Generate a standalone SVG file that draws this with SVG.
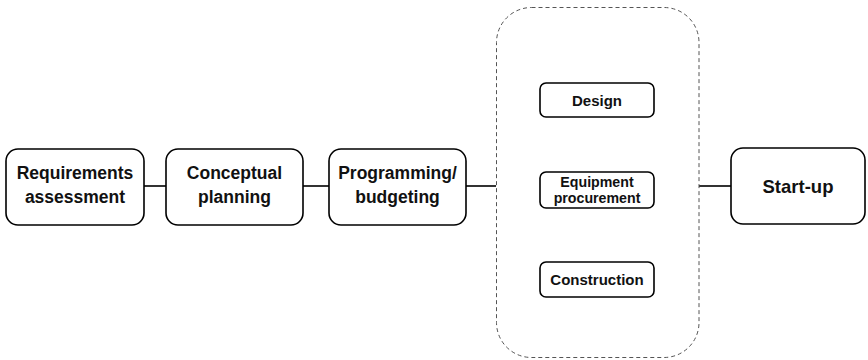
<svg xmlns="http://www.w3.org/2000/svg" width="868" height="360" viewBox="0 0 868 360">
  <style>
    .box { fill: #ffffff; stroke: #000000; stroke-width: 1.6; }
    .sub { fill: #ffffff; stroke: #000000; stroke-width: 1.6; }
    .group { fill: none; stroke: #555555; stroke-width: 1; stroke-dasharray: 4 3; }
    .link { stroke: #000000; stroke-width: 1.6; fill: none; }
    .lbl { font-family: "Liberation Sans", Arial, Helvetica, sans-serif; font-weight: bold; font-size: 17.5px; fill: #111111; text-anchor: middle; }
    .slbl { font-family: "Liberation Sans", Arial, Helvetica, sans-serif; font-weight: bold; font-size: 15px; fill: #111111; text-anchor: middle; }
    .tight { font-size: 14.2px; }
  </style>
  <rect width="868" height="360" fill="#ffffff"/>

  <g id="connectors">
    <line class="link" x1="144" y1="186" x2="166" y2="186"/>
    <line class="link" x1="303" y1="186" x2="329" y2="186"/>
    <line class="link" x1="466" y1="186" x2="496" y2="186"/>
    <line class="link" x1="699" y1="186" x2="731" y2="186"/>
  </g>

  <g id="requirements-assessment">
    <rect class="box" x="6" y="149" width="138" height="76" rx="12"/>
    <text class="lbl" x="75" y="179">Requirements</text>
    <text class="lbl" x="75" y="203">assessment</text>
  </g>

  <g id="conceptual-planning">
    <rect class="box" x="166" y="149" width="137" height="76" rx="12"/>
    <text class="lbl" x="234.5" y="179">Conceptual</text>
    <text class="lbl" x="234.5" y="203">planning</text>
  </g>

  <g id="programming-budgeting">
    <rect class="box" x="329" y="149" width="137" height="76" rx="12"/>
    <text class="lbl" x="397.5" y="179">Programming/</text>
    <text class="lbl" x="397.5" y="203">budgeting</text>
  </g>

  <g id="implementation">
    <rect class="group" x="496.5" y="7.5" width="202.5" height="350" rx="35"/>
  </g>

  <g id="design">
    <rect class="sub" x="540" y="83" width="114" height="34" rx="6"/>
    <text class="slbl" x="597" y="105.5">Design</text>
  </g>

  <g id="equipment-procurement">
    <rect class="sub" x="540" y="172" width="114" height="36" rx="6"/>
    <text class="slbl tight" x="597" y="187">Equipment</text>
    <text class="slbl tight" x="597" y="203">procurement</text>
  </g>

  <g id="construction">
    <rect class="sub" x="540" y="262" width="114" height="35" rx="6"/>
    <text class="slbl" x="597" y="284.5">Construction</text>
  </g>

  <g id="start-up">
    <rect class="box" x="731" y="148" width="134" height="76" rx="12"/>
    <text class="lbl" x="798" y="192.5" style="font-size:18.5px">Start-up</text>
  </g>
</svg>
